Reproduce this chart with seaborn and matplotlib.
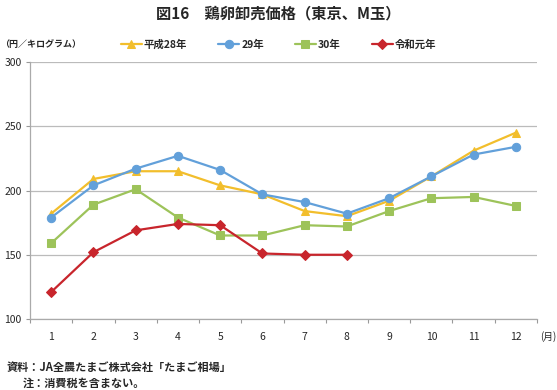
import numpy as np
import pandas as pd
import matplotlib
matplotlib.use("Agg")
import matplotlib.pyplot as plt
import seaborn as sns

# ==========================================
# データ（東京、M玉、円／kg）
# ==========================================
months = [1, 2, 3, 4, 5, 6, 7, 8, 9, 10, 11, 12]
h28 = [182, 209, 215, 215, 204, 197, 184, 180, 192, 211, 231, 245]
h29 = [179, 204, 217, 227, 216, 197, 191, 182, 194, 211, 228, 234]
h30 = [159, 189, 201, 179, 165, 165, 173, 172, 184, 194, 195, 188]
r01 = [121, 152, 169, 174, 173, 151, 150, 150]

series_names = ["平成28年", "29年", "30年", "令和元年"]
colors = ["#F2BE2C", "#62A0DA", "#9DC35A", "#C8252C"]
markers = ["^", "o", "s", "D"]
msizes = [6, 6, 6, 5]

sns.set_theme(style="white")
plt.rcParams['font.family'] = ['Noto Sans CJK JP', 'DejaVu Sans']

rows = []
for name, vals in zip(series_names, [h28, h29, h30, r01]):
    for m, v in zip(months, vals):
        rows.append({"month": m, "price": v, "series": name})
df = pd.DataFrame(rows)

fig = plt.figure(figsize=(5.57, 3.9), dpi=100)
ax = fig.add_axes([0.054, 0.182, 0.91, 0.659])

for name, c, mk, ms in zip(series_names, colors, markers, msizes):
    sub = df[df["series"] == name]
    sns.lineplot(data=sub, x="month", y="price", ax=ax, color=c, marker=mk,
                 markersize=ms, markeredgecolor=c, linewidth=1.6, label=name,
                 legend=False)

ax.set_xlim(0.5, 12.5)
ax.set_ylim(100, 300)
ax.set_yticks([100, 150, 200, 250, 300])
ax.set_xticks(months)
ax.set_xticks(np.arange(0.5, 13, 1), minor=True)
ax.tick_params(axis="x", which="major", length=0, pad=9, labelsize=7.5)
ax.tick_params(axis="x", which="minor", length=3, width=0.8, color="#999999",
               direction="out", bottom=True)
ax.tick_params(axis="y", length=3, width=0.8, color="#999999", labelsize=7.5,
               left=True, pad=3)
ax.set_xlabel("")
ax.set_ylabel("")
ax.yaxis.grid(True, color="#BBBBBB", linewidth=0.9)
ax.xaxis.grid(False)
for s in ["top", "right"]:
    ax.spines[s].set_visible(False)
for s in ["left", "bottom"]:
    ax.spines[s].set_color("#AAAAAA")
    ax.spines[s].set_linewidth(0.9)

# 凡例
handles, labels = ax.get_legend_handles_labels()
fig.legend(handles, labels, loc="center", bbox_to_anchor=(0.5, 0.885), ncol=4,
           frameon=False, fontsize=7.5, handlelength=2.0, handletextpad=0.2,
           columnspacing=3.0, prop={"weight": "bold", "size": 7.5})

fig.text(0.5, 0.965, "図16　鶏卵卸売価格（東京、M玉）", ha="center", va="center",
         fontsize=11, fontweight="bold")
fig.text(0.0, 0.885, "（円／キログラム）", ha="left", va="center", fontsize=6.5,
         fontweight="bold")
fig.text(0.998, 0.138, "(月)", ha="right", va="center", fontsize=7)
fig.text(0.012, 0.058, "資料：JA全農たまご株式会社「たまご相場」", ha="left",
         va="center", fontsize=8, fontweight="bold")
fig.text(0.04, 0.018, "注：消費税を含まない。", ha="left", va="center",
         fontsize=8, fontweight="bold")

plt.savefig("out.png", dpi=100)
plt.close()
